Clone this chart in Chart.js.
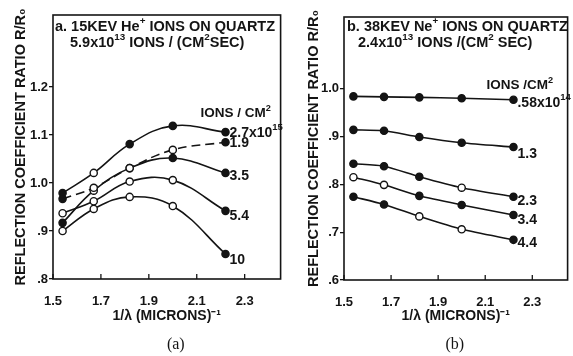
<!DOCTYPE html>
<html>
<head>
<meta charset="utf-8">
<script src="https://cdn.jsdelivr.net/npm/chart.js@4.4.1/dist/chart.umd.min.js"></script>
<style>
  html, body { margin: 0; padding: 0; background: #fff; }
  #wrap { position: relative; width: 573px; height: 356px; overflow: hidden; }
  .panel { position: absolute; top: 0; height: 356px; }
  #panelA { left: 0; width: 286px; }
  #panelB { left: 286px; width: 287px; }
</style>
</head>
<body>
<div id="wrap">
  <div class="panel" id="panelA"><canvas id="chartA"></canvas></div>
  <div class="panel" id="panelB"><canvas id="chartB"></canvas></div>
</div>
<script>
// 1/lambda positions (microns^-1), same for both panels
const waveNumbers = [1.54, 1.67, 1.82, 2.0, 2.22];
const xTicks = [1.5, 1.7, 1.9, 2.1, 2.3];

// (a) 15 KEV He+ ions on quartz
const heTicksY = [0.8, 0.9, 1.0, 1.1, 1.2];
const heDoses = ['2.7x10^{15}', '1.9', '3.5', '5.4', '10'];
const he27 = [0.979, 1.021, 1.081, 1.119, 1.106];
const he19 = [0.967, 0.990, 1.031, 1.069, 1.085];
const he35 = [0.917, 0.984, 1.031, 1.052, 1.021];
const he54 = [0.937, 0.962, 1.003, 1.006, 0.942];
const he10 = [0.900, 0.946, 0.971, 0.952, 0.852];

// (b) 38 KEV Ne+ ions on quartz
const neTicksY = [0.6, 0.7, 0.8, 0.9, 1.0];
const neDoses = ['.58x10^{14}', '1.3', '2.3', '3.4', '4.4'];
const ne058 = [0.984, 0.983, 0.982, 0.980, 0.977];
const ne13 = [0.914, 0.912, 0.899, 0.887, 0.878];
const ne23 = [0.843, 0.838, 0.816, 0.793, 0.774];
const ne34 = [0.815, 0.799, 0.776, 0.757, 0.736];
const ne44 = [0.774, 0.758, 0.733, 0.706, 0.684];

const INK = '#141414';
const FONT = '"Liberation Sans", Arial, sans-serif';

// draws text where ^{..} is raised and smaller
function drawRich(ctx, str, x, y, size) {
  let cx = x;
  str.split(/(\^\{[^}]*\})/).forEach(p => {
    if (!p) return;
    const sup = p[0] === '^';
    const s = sup ? p.slice(2, -1) : p;
    ctx.font = 'bold ' + (sup ? size * 0.68 : size) + 'px ' + FONT;
    ctx.fillText(s, cx, sup ? y - size * 0.38 : y);
    cx += ctx.measureText(s).width;
  });
}

const framePlugin = {
  id: 'frame',
  afterDraw(chart) {
    const { ctx, chartArea: a, scales: { x } } = chart;
    ctx.save();
    ctx.strokeStyle = INK;
    ctx.lineWidth = 1.6;
    ctx.strokeRect(a.left, a.top, a.right - a.left, a.bottom - a.top);
    // short inward ticks on the bottom axis
    ctx.lineWidth = 1.3;
    x.ticks.forEach(t => {
      const px = x.getPixelForValue(t.value);
      ctx.beginPath();
      ctx.moveTo(px, a.bottom);
      ctx.lineTo(px, a.bottom - 5);
      ctx.stroke();
    });
    ctx.restore();
  }
};

const notesPlugin = {
  id: 'notes',
  afterDraw(chart, args, o) {
    const { ctx, chartArea: a, scales: { x, y } } = chart;
    ctx.save();
    ctx.fillStyle = INK;
    ctx.textBaseline = 'middle';
    ctx.textAlign = 'left';
    o.heading.forEach((line, i) => drawRich(ctx, line, a.left + o.headingDx[i], a.top + o.headingDy[i], 14.5));
    chart.data.datasets.forEach((ds, i) => {
      const last = ds.data[ds.data.length - 1];
      const px = x.getPixelForValue(last.x);
      const py = y.getPixelForValue(last.y);
      drawRich(ctx, ds.label, px + 4, py + o.labelDy[i], 14);
      if (i === 0) drawRich(ctx, o.header, px + o.headerDx, py + o.headerDy, 13.5);
    });
    ctx.font = '16px "Liberation Serif", serif';
    ctx.textAlign = 'center';
    ctx.fillText(o.caption, (a.left + a.right) / 2 + o.captionDx, chart.height - 11);
    ctx.restore();
  }
};

function trimZero(v) {
  const s = v.toFixed(1);
  return v < 1 ? s.slice(1) : s;
}

function makePanel(canvasId, cfg) {
  const datasets = cfg.series.map((vals, i) => ({
    label: cfg.doses[i],
    data: waveNumbers.map((x, j) => ({ x: x, y: vals[j] })),
    showLine: true,
    borderColor: INK,
    borderWidth: 1.6,
    borderDash: cfg.dashed[i] ? [9, 5] : [],
    tension: cfg.tension,
    pointRadius: 3.6,
    pointBorderWidth: 1.4,
    pointBorderColor: INK,
    pointBackgroundColor: cfg.fills[i].map(f => f ? INK : '#ffffff')
  }));

  return new Chart(document.getElementById(canvasId), {
    type: 'scatter',
    data: { datasets: datasets },
    plugins: [framePlugin, notesPlugin],
    options: {
      responsive: true,
      maintainAspectRatio: false,
      animation: false,
      layout: { padding: cfg.padding },
      plugins: {
        legend: { display: false },
        tooltip: { enabled: false },
        notes: cfg.notes
      },
      scales: {
        x: {
          type: 'linear',
          min: 1.5,
          max: 2.45,
          afterBuildTicks: s => { s.ticks = xTicks.map(v => ({ value: v })); },
          afterFit: s => { s.height = cfg.xHeight; },
          grid: { display: false },
          border: { display: false },
          ticks: {
            color: INK, autoSkip: false, maxRotation: 0, padding: 7,
            font: { family: FONT, size: 13, weight: 'bold' },
            callback: v => v.toFixed(1)
          },
          title: {
            display: true, text: '1/λ (MICRONS)⁻¹', color: INK,
            font: { family: FONT, size: 14, weight: 'bold' },
            padding: { top: 0, bottom: 31 }
          }
        },
        y: {
          type: 'linear',
          min: cfg.yMin,
          max: cfg.yMax,
          afterBuildTicks: s => { s.ticks = cfg.yTicks.map(v => ({ value: v })); },
          afterFit: s => { s.width = cfg.yWidth; },
          grid: { drawOnChartArea: false, tickLength: 4, color: INK, lineWidth: 1.3 },
          border: { display: false },
          ticks: {
            color: INK, padding: 1,
            font: { family: FONT, size: 13, weight: 'bold' },
            callback: v => trimZero(v)
          },
          title: {
            display: true, text: 'REFLECTION COEFFICIENT RATIO R/R₀', color: INK,
            font: { family: FONT, size: 14.5, weight: 'bold' },
            padding: { top: cfg.yTitlePad, bottom: 0 }
          }
        }
      }
    }
  });
}

makePanel('chartA', {
  series: [he27, he19, he35, he54, he10],
  doses: heDoses,
  dashed: [false, true, false, false, false],
  fills: [
    [1, 0, 1, 1, 1],
    [1, 0, 0, 0, 1],
    [1, 0, 0, 1, 1],
    [0, 0, 0, 0, 1],
    [0, 0, 0, 0, 1]
  ],
  tension: 0.4,
  padding: { left: 0, top: 15, right: 3, bottom: 0 },
  yMin: 0.8, yMax: 1.35, yTicks: heTicksY,
  yWidth: 53, xHeight: 77, yTitlePad: 12,
  notes: {
    heading: ['a. 15KEV He^{+} IONS ON QUARTZ', '5.9x10^{13} IONS / (CM^{2}SEC)'],
    headingDx: [2, 17], headingDy: [12, 28],
    header: 'IONS / CM^{2}', headerDx: -25, headerDy: -19,
    labelDy: [1, 1, 3, 5, 6],
    caption: '(a)', captionDx: 9
  }
});

makePanel('chartB', {
  series: [ne058, ne13, ne23, ne34, ne44],
  doses: neDoses,
  dashed: [false, false, false, false, false],
  fills: [
    [1, 1, 1, 1, 1],
    [1, 1, 1, 1, 1],
    [1, 1, 1, 0, 1],
    [0, 0, 1, 1, 1],
    [1, 1, 0, 0, 1]
  ],
  tension: 0.25,
  padding: { left: 0, top: 17, right: 2, bottom: 0 },
  yMin: 0.6, yMax: 1.15, yTicks: neTicksY,
  yWidth: 58, xHeight: 76, yTitlePad: 19,
  notes: {
    heading: ['b. 38KEV Ne^{+} IONS ON QUARTZ', '2.4x10^{13} IONS /(CM^{2} SEC)'],
    headingDx: [3, 14], headingDy: [10, 26],
    header: 'IONS /CM^{2}', headerDx: -27, headerDy: -14,
    labelDy: [3, 7, 4, 5, 3],
    caption: '(b)', captionDx: -1
  }
});
</script>
</body>
</html>
